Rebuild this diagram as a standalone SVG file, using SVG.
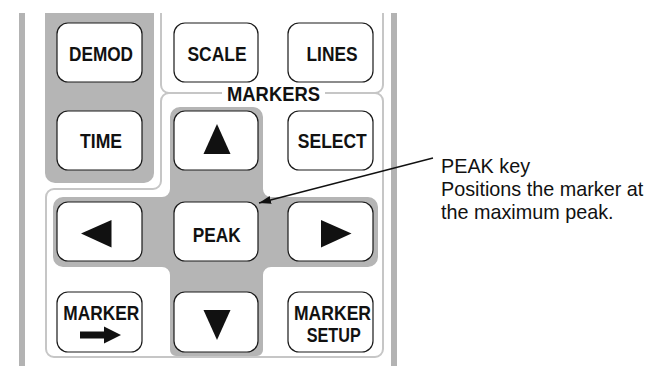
<svg xmlns="http://www.w3.org/2000/svg" width="647" height="366" viewBox="0 0 647 366">
<style>
.bar{fill:#b3b3b3}
.pan{fill:#b5b5b5}
.ol{fill:none;stroke:#c6c6c6;stroke-width:2}
.btn rect{fill:#fff;stroke:#1a1a1a;stroke-width:1.2}
.lbl{font-family:"Liberation Sans",Arial,sans-serif;font-weight:bold;font-size:20.5px;fill:#111;text-anchor:middle}
.sym{fill:#111}
.desc{font-family:"Liberation Sans",Arial,sans-serif;font-size:19.8px;fill:#111}
</style>
<defs>
<marker id="ah" viewBox="0 0 12 8" refX="12" refY="4" markerWidth="12" markerHeight="8" markerUnits="userSpaceOnUse" orient="auto">
<path d="M0,0 L12,4 L0,8 Z" fill="#111"/>
</marker>
</defs>
<rect width="647" height="366" fill="#fff"/>
<g id="frame">
<rect class="bar" x="19" y="13" width="6" height="353"/>
<rect class="bar" x="391" y="13" width="6" height="353"/>
<path class="pan" d="M45,13 H154 V173 A10,10 0 0 1 144,183 H55 A10,10 0 0 1 45,173 Z"/>
<path class="pan" d="M180,107 H253 A10,10 0 0 1 263,117 V189 A8,8 0 0 0 271,197 H368 A10,10 0 0 1 378,207 V257 A10,10 0 0 1 368,267 H271 A8,8 0 0 0 263,275 V350 A6,6 0 0 1 257,356 H176 A6,6 0 0 1 170,350 V275 A8,8 0 0 0 162,267 H63 A10,10 0 0 1 53,257 V207 A10,10 0 0 1 63,197 H162 A8,8 0 0 0 170,189 V117 A10,10 0 0 1 180,107 Z"/>
<path class="ol" d="M161,13 V85 A8,8 0 0 0 169,93 H222 M325,93 H375 A8,8 0 0 0 383,85 V13"/>
<path class="ol" d="M169,93 A8,8 0 0 0 161,101 V181 A8,8 0 0 1 153,189 H54 A8,8 0 0 0 46,197 V349 A8,8 0 0 0 54,357 H375 A8,8 0 0 0 383,349 V101 A8,8 0 0 0 375,93"/>
<text class="lbl" x="273.5" y="101" textLength="93" lengthAdjust="spacingAndGlyphs">MARKERS</text>
</g>
<g id="demod" class="btn"><rect x="57" y="23" width="85" height="59" rx="11"/><text class="lbl" x="101" y="61" textLength="64" lengthAdjust="spacingAndGlyphs">DEMOD</text></g>
<g id="scale" class="btn"><rect x="174" y="23" width="84" height="59" rx="11"/><text class="lbl" x="217" y="61" textLength="59" lengthAdjust="spacingAndGlyphs">SCALE</text></g>
<g id="lines" class="btn"><rect x="288" y="23" width="85" height="59" rx="11"/><text class="lbl" x="332" y="61" textLength="51" lengthAdjust="spacingAndGlyphs">LINES</text></g>
<g id="time" class="btn"><rect x="57" y="111" width="85" height="59" rx="11"/><text class="lbl" x="101" y="148" textLength="42" lengthAdjust="spacingAndGlyphs">TIME</text></g>
<g id="up" class="btn"><rect x="174" y="111" width="84" height="59" rx="11"/><polygon class="sym" points="217,124 230.5,154 203.5,154"/></g>
<g id="select" class="btn"><rect x="288" y="111" width="85" height="59" rx="11"/><text class="lbl" x="332.3" y="148" textLength="69" lengthAdjust="spacingAndGlyphs">SELECT</text></g>
<g id="left" class="btn"><rect x="57" y="202" width="85" height="59" rx="11"/><polygon class="sym" points="81,233.5 111.5,220 111.5,247.5"/></g>
<g id="peak" class="btn"><rect x="174" y="202" width="84" height="59" rx="11"/><text class="lbl" x="216.7" y="241.5" textLength="48" lengthAdjust="spacingAndGlyphs">PEAK</text></g>
<g id="right" class="btn"><rect x="288" y="202" width="85" height="59" rx="11"/><polygon class="sym" points="351.5,233.5 321,220 321,247.5"/></g>
<g id="marker" class="btn"><rect x="57" y="292" width="85" height="60" rx="11"/><text class="lbl" x="101.3" y="320" textLength="76" lengthAdjust="spacingAndGlyphs">MARKER</text><polygon class="sym" points="80,331.5 104,331.5 104,326.5 121,335 104,343.5 104,338.5 80,338.5"/></g>
<g id="down" class="btn"><rect x="174" y="292" width="84" height="60" rx="11"/><polygon class="sym" points="203.5,310 230.5,310 217,340"/></g>
<g id="markersetup" class="btn"><rect x="288" y="292" width="85" height="60" rx="11"/><text class="lbl" x="332.5" y="320" textLength="77" lengthAdjust="spacingAndGlyphs">MARKER</text><text class="lbl" x="333.7" y="341.5" textLength="54" lengthAdjust="spacingAndGlyphs">SETUP</text></g>
<g id="connectors">
<line x1="433" y1="158" x2="259" y2="203" stroke="#111" stroke-width="1.3" marker-end="url(#ah)"/>
</g>
<g id="callout">
<text class="desc" x="441" y="173">PEAK key</text>
<text class="desc" x="441" y="196">Positions the marker at</text>
<text class="desc" x="441" y="219">the maximum peak.</text>
</g>
</svg>
